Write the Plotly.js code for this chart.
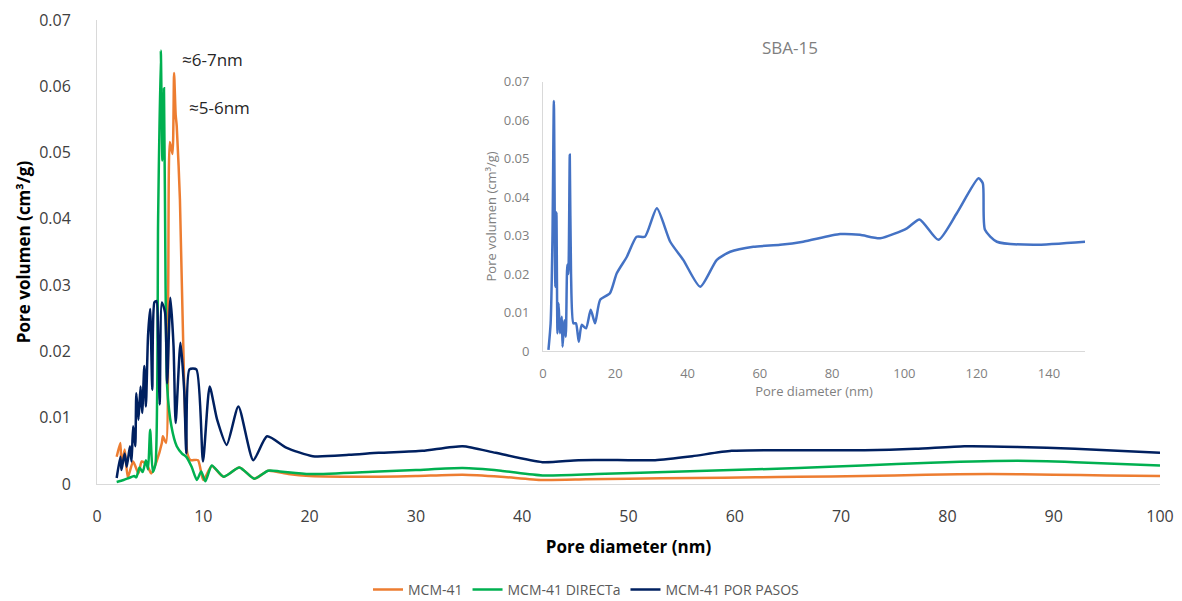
<!DOCTYPE html>
<html>
<head>
<meta charset="utf-8">
<script src="https://cdn.plot.ly/plotly-3.0.1.min.js"></script>
<style>html,body{margin:0;padding:0;background:#fff;}#chart{width:1182px;height:601px;}</style>
</head>
<body>
<div id="chart"></div>
<script>
// MCM-41
const mcmX = [1.85,2.2,2.3,2.6,2.9,3.4,3.9,4.2,4.7,5.1,5.6,6.1,6.2,6.5,6.7,6.85,7.1,7.25,7.4,7.5,7.8,8.2,8.5,8.8,9.5,10.0,10.8,11.9,13.4,14.8,16.1,18,20,23,26.5,30,34.4,38,41.9,46,50,56,62,66,72,78,84,90,95,100];
const mcmY = [0.0041,0.0062,0.0026,0.0052,0.0010,0.0034,0.0016,0.0034,0.0029,0.0016,0.0034,0.0062,0.0072,0.0062,0.030,0.0516,0.0498,0.062,0.0557,0.054,0.043,0.015,0.0046,0.0036,0.0036,0.0006,0.0027,0.0011,0.0025,0.0008,0.0020,0.0015,0.0012,0.0011,0.0011,0.0012,0.0014,0.0011,0.0006,0.0007,0.0008,0.0009,0.0010,0.0011,0.0012,0.0014,0.0015,0.0014,0.0013,0.0012];
// MCM-41 DIRECTa
const dirX = [1.85,2.5,3.0,3.5,3.7,4.0,4.3,4.6,4.8,5.0,5.25,5.5,5.75,6.0,6.15,6.3,6.45,6.6,7.0,7.5,8.0,8.4,8.9,9.4,9.8,10.2,10.8,11.9,13.4,14.8,16.1,17.2,20,26.5,30,34.4,38,41.9,47,55,66,72,78.4,86.6,92,100];
const dirY = [0.0003,0.0006,0.0009,0.0012,0.0010,0.0025,0.0018,0.0036,0.0022,0.0082,0.0018,0.0030,0.040,0.0654,0.0488,0.0597,0.030,0.0147,0.0087,0.0057,0.0046,0.0041,0.0026,0.0006,0.0019,0.0004,0.0028,0.0011,0.0025,0.0008,0.0020,0.0019,0.0015,0.0019,0.0021,0.0024,0.0020,0.0013,0.0015,0.0019,0.0024,0.0028,0.0032,0.0035,0.0033,0.0028];
// MCM-41 POR PASOS
const pasX = [1.85,2.2,2.3,2.6,2.8,3.1,3.25,3.4,3.6,3.7,3.9,4.1,4.25,4.45,4.6,4.8,5.0,5.2,5.4,5.6,5.75,5.9,6.1,6.4,6.6,6.9,7.2,7.4,7.85,8.2,8.4,8.7,9.35,9.97,10.6,11.3,12.2,13.3,14.7,16.0,17.8,20.3,23.7,26.5,30.6,34.4,37.5,41.9,45.3,50,52.5,56,59.7,66,72.2,77,81.6,86.6,92,100];
const pasY = [0.0009,0.0041,0.0021,0.0046,0.0026,0.0057,0.0034,0.0087,0.0057,0.0137,0.0097,0.0147,0.0107,0.0178,0.0117,0.0223,0.0264,0.0142,0.0274,0.0276,0.022,0.012,0.0274,0.0259,0.0152,0.0281,0.0208,0.0092,0.0213,0.0142,0.0046,0.0173,0.0173,0.0034,0.0147,0.0097,0.0059,0.0117,0.0036,0.0072,0.0055,0.0042,0.0044,0.0047,0.0050,0.0057,0.0047,0.0033,0.0036,0.0036,0.0036,0.0042,0.0050,0.0051,0.0051,0.0053,0.0057,0.0056,0.0053,0.0047];
// SBA-15 (inset)
const sbaX = [1.5,2.1,2.6,3.0,3.4,3.7,4.0,4.3,4.7,5.2,5.4,5.9,6.3,6.7,7.0,7.4,7.75,8.4,9.1,9.9,10.7,11.9,13.2,14.4,15.8,18.5,20.4,23.2,25.9,28.2,31.5,35.2,38.8,43.5,48.1,51.8,58.2,65.6,72,82.2,87.7,93.3,100.7,104.2,109.4,114.5,120.5,121.7,122.3,125.6,135.7,150];
const sbaY = [0.0003,0.0072,0.0289,0.065,0.0167,0.036,0.0046,0.0124,0.0046,0.0089,0.0011,0.008,0.0037,0.0224,0.020,0.051,0.020,0.0072,0.0072,0.0024,0.0068,0.0059,0.0107,0.0072,0.0133,0.015,0.0202,0.0245,0.0297,0.0297,0.0371,0.0284,0.0237,0.0167,0.0237,0.0258,0.0271,0.0276,0.0284,0.0304,0.0302,0.0293,0.0319,0.0342,0.0289,0.0358,0.0449,0.0436,0.0315,0.0284,0.0276,0.0284];

const seriesNames = ['MCM-41','MCM-41 DIRECTa','MCM-41 POR PASOS'];
const mainTicks = [0,10,20,30,40,50,60,70,80,90,100];
const yTicks = [0,0.01,0.02,0.03,0.04,0.05,0.06,0.07];
const yTickText = ['0','0.01','0.02','0.03','0.04','0.05','0.06','0.07'];
const insetTicks = [0,20,40,60,80,100,120,140];

const F = 'Open Sans, Liberation Sans, sans-serif';
const traces = [
  {x: mcmX, y: mcmY, name: seriesNames[0], type:'scatter', mode:'lines', line:{color:'#ED7D31', width:2.5, shape:'spline', smoothing:0.6}, xaxis:'x', yaxis:'y'},
  {x: dirX, y: dirY, name: seriesNames[1], type:'scatter', mode:'lines', line:{color:'#00B050', width:2.5, shape:'spline', smoothing:0.6}, xaxis:'x', yaxis:'y'},
  {x: pasX, y: pasY, name: seriesNames[2], type:'scatter', mode:'lines', line:{color:'#002060', width:2.5, shape:'spline', smoothing:0.6}, xaxis:'x', yaxis:'y'},
  {x: sbaX, y: sbaY, name: 'SBA-15', type:'scatter', mode:'lines', showlegend:false, line:{color:'#4472C4', width:2.5, shape:'spline', smoothing:0.6}, xaxis:'x2', yaxis:'y2'}
];

const layout = {
  width:1182, height:601,
  margin:{l:97, r:22, t:20, b:117, autoexpand:false},
  paper_bgcolor:'#fff', plot_bgcolor:'rgba(0,0,0,0)',
  font:{family:F, color:'#404040'},
  showlegend:true,
  legend:{orientation:'h', x:(586-97)/1063, xanchor:'center', y:-0.228, yanchor:'middle', font:{size:14, color:'#595959', family:F}},
  xaxis:{domain:[0,1], range:[0,100], tickvals:mainTicks, automargin:false, showgrid:false, zeroline:false, showline:true, linecolor:'#d9d9d9', linewidth:1, ticks:'', ticklabelstandoff:18, tickfont:{size:16, color:'#404040'},
         title:{text:'<b>Pore diameter (nm)</b>', font:{size:17, color:'#000'}, standoff:14}},
  yaxis:{domain:[0,1], range:[0,0.07], tickvals:yTicks, ticktext:yTickText, automargin:false, showgrid:false, zeroline:false, showline:true, linecolor:'#d9d9d9', linewidth:1, ticks:'', ticklabelstandoff:22, tickfont:{size:16, color:'#404040'},
         title:{text:'<b>Pore volumen (cm³/g)</b>', font:{size:17, color:'#000'}, standoff:4}},
  xaxis2:{domain:[0.4196,0.9295], anchor:'y2', range:[0,150], tickvals:insetTicks, automargin:false, showgrid:false, zeroline:false, showline:true, linecolor:'#d9d9d9', linewidth:1, ticks:'', ticklabelstandoff:10, tickfont:{size:13, color:'#7f7f7f'},
          title:{text:'Pore diameter (nm)', font:{size:13, color:'#7f7f7f'}, standoff:6}},
  yaxis2:{domain:[0.2866,0.867], anchor:'x2', range:[0,0.07], tickvals:yTicks, ticktext:yTickText, automargin:false, showgrid:false, zeroline:false, showline:true, linecolor:'#d9d9d9', linewidth:1, ticks:'', ticklabelstandoff:10, tickfont:{size:13, color:'#7f7f7f'},
          title:{text:'Pore volumen (cm³/g)', font:{size:13, color:'#7f7f7f'}, standoff:4}},
  annotations:[
    {text:'≈6-7nm', xref:'paper', yref:'paper', x:(180-97)/1063, y:(484-60)/464, xanchor:'left', yanchor:'middle', showarrow:false, font:{size:17, color:'#262626', family:F}},
    {text:'≈5-6nm', xref:'paper', yref:'paper', x:(187-97)/1063, y:(484-107)/464, xanchor:'left', yanchor:'middle', showarrow:false, font:{size:17, color:'#262626', family:F}},
    {text:'SBA-15', xref:'paper', yref:'paper', x:(790-97)/1063, y:(484-48)/464, xanchor:'center', yanchor:'middle', showarrow:false, font:{size:17, color:'#7f7f7f', family:F}}
  ]
};
Plotly.newPlot('chart', traces, layout, {displayModeBar:false, staticPlot:true});
</script>
</body>
</html>
